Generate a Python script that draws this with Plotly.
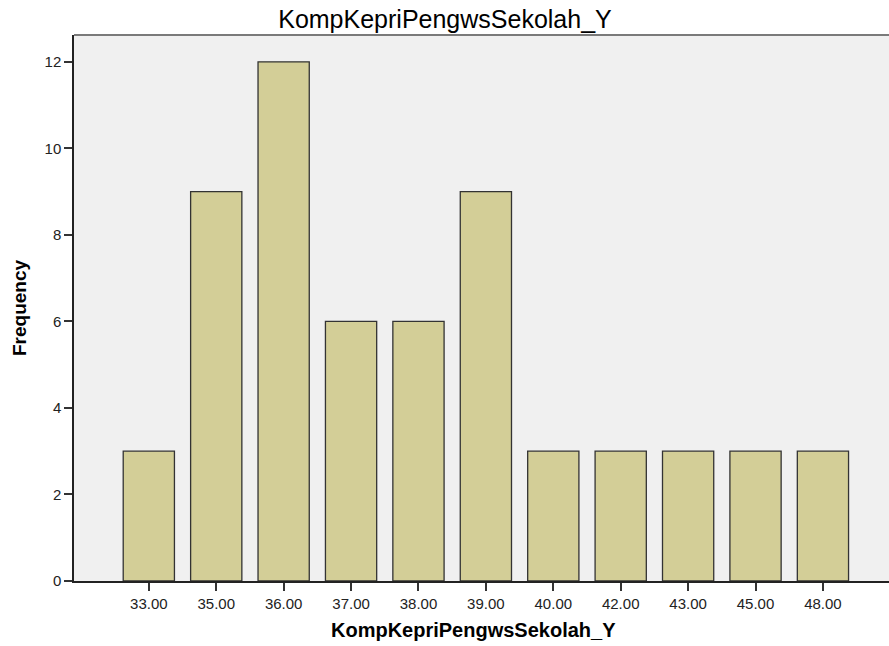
import plotly.graph_objects as go

categories = ["33.00", "35.00", "36.00", "37.00", "38.00", "39.00", "40.00", "42.00", "43.00", "45.00", "48.00"]
frequencies = [3, 9, 12, 6, 6, 9, 3, 3, 3, 3, 3]
y_ticks = [0, 2, 4, 6, 8, 10, 12]

fig = go.Figure(go.Bar(
    x=categories, y=frequencies,
    marker=dict(color="#d3ce97", line=dict(color="#333333", width=1.3)),
))

W, H = 889, 646
L, T, B = 74, 35, 65
font = "Liberation Sans, Arial, sans-serif"
fig.update_layout(
    width=W, height=H,
    margin=dict(l=L, r=0, t=T, b=B),
    paper_bgcolor="white", plot_bgcolor="#f0f0f0",
    bargap=0.24,
    showlegend=False,
    title=dict(text="KompKepriPengwsSekolah_Y", x=445 / W, xref="container", xanchor="center",
               y=1 - 19 / H, yref="container", yanchor="middle",
               font=dict(family=font, size=25, color="black")),
    font=dict(family=font, color="black"),
)
fig.update_xaxes(
    type="category", range=[-1.11, 10.98],
    showline=True, linecolor="#222222", linewidth=1.5,
    ticks="outside", ticklen=8, tickcolor="#333333", tickwidth=1.5,
    tickfont=dict(size=15, color="#222222"),
    showgrid=False,
)
fig.update_yaxes(
    range=[0, 12.62], tickvals=y_ticks,
    showline=True, linecolor="#222222", linewidth=1.5,
    ticks="outside", ticklen=8, tickcolor="#333333", tickwidth=1.5,
    tickfont=dict(size=15, color="#222222"),
    showgrid=False, zeroline=False,
    title=dict(text="<b>Frequency</b>", font=dict(size=19, color="black"), standoff=13),
)
plot_w = W - L
plot_h = H - T - B
fig.add_annotation(text="<b>KompKepriPengwsSekolah_Y</b>", xref="paper", yref="paper",
                   x=(473 - L) / plot_w, y=-(630 - (H - B)) / plot_h,
                   xanchor="center", yanchor="middle", showarrow=False,
                   font=dict(family=font, size=20, color="black"))
fig.add_shape(type="line", xref="paper", yref="paper", x0=0, x1=1, y0=1, y1=1,
              line=dict(color="#7a7a7a", width=2))

fig.write_html("out.html", config={"displayModeBar": False},
               post_script="document.body.style.margin='0';document.body.style.overflow='hidden';")
